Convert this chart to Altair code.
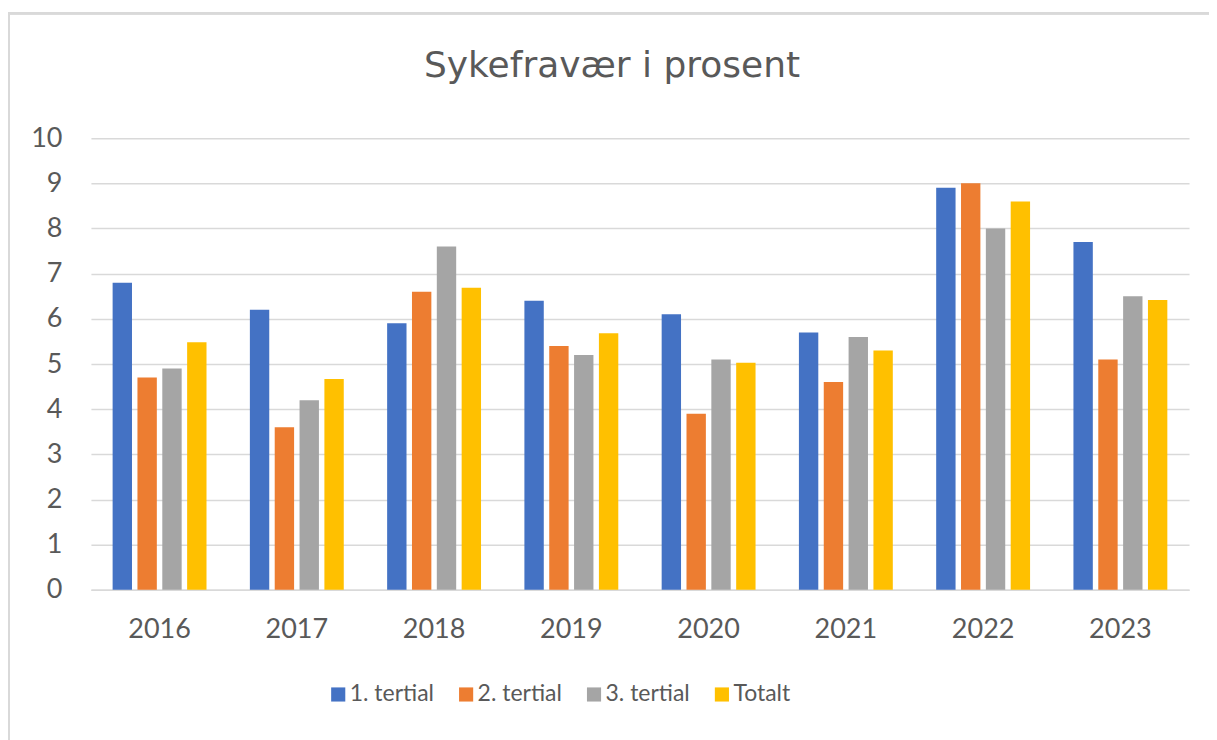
import altair as alt
import pandas as pd

years = ["2016", "2017", "2018", "2019", "2020", "2021", "2022", "2023"]
series = ["1. tertial", "2. tertial", "3. tertial", "Totalt"]
t1 = [6.8, 6.2, 5.9, 6.4, 6.1, 5.7, 8.9, 7.7]
t2 = [4.7, 3.6, 6.6, 5.4, 3.9, 4.6, 9.0, 5.1]
t3 = [4.9, 4.2, 7.6, 5.2, 5.1, 5.6, 8.0, 6.5]
totalt = [5.48, 4.67, 6.69, 5.68, 5.03, 5.3, 8.6, 6.42]
colors = ["#4472C4", "#ED7D31", "#A5A5A5", "#FFC000"]

rows = []
for name, vals in zip(series, [t1, t2, t3, totalt]):
    for y, v in zip(years, vals):
        rows.append({"År": y, "Serie": name, "Verdi": v})
df = pd.DataFrame(rows)

FONT = "Lato"
GREY = "#595959"

W, H = 1099, 452

bars = alt.Chart(df).mark_bar().encode(
    x=alt.X("År:N", sort=years, title=None,
            scale=alt.Scale(paddingInner=0.316, paddingOuter=0.158),
            axis=alt.Axis(labelAngle=0, labelFont=FONT, labelFontSize=27,
                          labelColor=GREY, ticks=False, tickSize=0,
                          labelPadding=27, domainColor="#d9d9d9",
                          domainWidth=1.5, grid=False)),
    xOffset=alt.XOffset("Serie:N", sort=series,
                        scale=alt.Scale(paddingInner=0.22, paddingOuter=0)),
    y=alt.Y("Verdi:Q", title=None,
            scale=alt.Scale(domain=[0, 10], nice=False),
            axis=alt.Axis(values=list(range(0, 11)), labelFont=FONT,
                          labelFontSize=27, labelColor=GREY, ticks=False,
                          tickSize=0, labelPadding=29, domain=False,
                          gridColor="#d9d9d9", gridWidth=1.5)),
    color=alt.Color("Serie:N", sort=series,
                    scale=alt.Scale(domain=series, range=colors),
                    legend=alt.Legend(title=None, orient="none",
                                      direction="horizontal",
                                      legendX=236, legendY=545,
                                      symbolType="square", symbolSize=200,
                                      symbolStrokeWidth=0,
                                      labelFont=FONT, labelFontSize=23,
                                      labelColor=GREY, labelOffset=0,
                                      columnPadding=20)),
)

frame = alt.Chart(df).mark_rect(fill=None, stroke="#d9d9d9", strokeWidth=2).encode(
    x=alt.value(-82), x2=alt.value(W + 60),
    y=alt.value(-125), y2=alt.value(H + 200),
)

chart = alt.layer(frame, bars).properties(
    width=W, height=H,
    view=alt.ViewBackground(stroke="transparent", strokeWidth=0),
    title=alt.TitleParams("Sykefravær i prosent", font="DejaVu Sans", fontSize=36,
                          fontWeight="normal", color=GREY, anchor="middle",
                          baseline="alphabetic", dx=-28, offset=-101),
    autosize=alt.AutoSizeParams(type="none"),
    padding={"left": 83, "top": 130, "right": 20, "bottom": 150},
).configure_view(stroke="transparent", strokeWidth=0).configure(background="white")

chart.save("out.html", embed_options={"renderer": "svg", "actions": False})
